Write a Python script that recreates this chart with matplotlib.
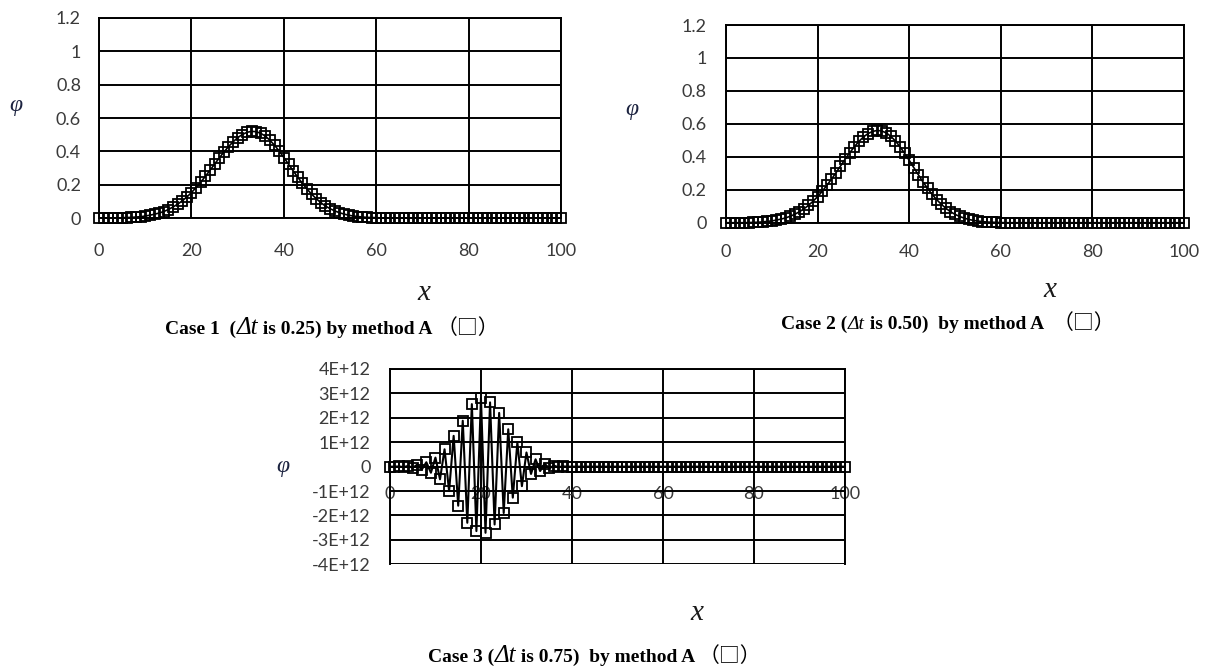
"""Three panels of phi(x) for the advection test, cases 1-3 of method A."""
import matplotlib

matplotlib.use("Agg")
import matplotlib.pyplot as plt
import numpy as np
from matplotlib.offsetbox import AnnotationBbox, HPacker, TextArea

# node positions along x (uniform grid, 0..100)
x_nodes = np.arange(101)

# values, one per node
case1_phi = [
    0, 0, 0, 0, 0, 0.002, 0.003, 0.004, 0.006, 0.008,
    0.012, 0.017, 0.023, 0.030, 0.039, 0.051, 0.066, 0.083, 0.103, 0.126,
    0.153, 0.183, 0.215, 0.250, 0.286, 0.323, 0.360, 0.395, 0.428, 0.457,
    0.482, 0.501, 0.514, 0.520, 0.518, 0.508, 0.491, 0.466, 0.436, 0.401,
    0.363, 0.323, 0.284, 0.245, 0.208, 0.174, 0.143, 0.116, 0.092, 0.072,
    0.056, 0.043, 0.032, 0.024, 0.017, 0.012, 0.009, 0.006, 0.004, 0.003,
    0.002, 0.001, 0, 0, 0, 0, 0, 0, 0, 0,
    0, 0, 0, 0, 0, 0, 0, 0, 0, 0,
    0, 0, 0, 0, 0, 0, 0, 0, 0, 0,
    0, 0, 0, 0, 0, 0, 0, 0, 0, 0,
    0,
]
case2_phi = [
    0, 0, 0, 0, 0, 0.001, 0.002, 0.003, 0.005, 0.008,
    0.011, 0.016, 0.022, 0.029, 0.039, 0.051, 0.066, 0.084, 0.105, 0.130,
    0.158, 0.190, 0.226, 0.263, 0.303, 0.344, 0.385, 0.424, 0.460, 0.493,
    0.520, 0.541, 0.554, 0.560, 0.557, 0.545, 0.524, 0.496, 0.461, 0.421,
    0.379, 0.335, 0.291, 0.248, 0.209, 0.172, 0.140, 0.112, 0.088, 0.067,
    0.051, 0.038, 0.028, 0.020, 0.014, 0.010, 0.007, 0.004, 0.003, 0.002,
    0.001, 0, 0, 0, 0, 0, 0, 0, 0, 0,
    0, 0, 0, 0, 0, 0, 0, 0, 0, 0,
    0, 0, 0, 0, 0, 0, 0, 0, 0, 0,
    0, 0, 0, 0, 0, 0, 0, 0, 0, 0,
    0,
]
# case 3 blows up, values in units of 1E+12
case3_phi_e12 = [
    0, 0, 0.01, -0.02, 0.03, -0.05, 0.08, -0.12, 0.18, -0.25,
    0.37, -0.52, 0.71, -1.00, 1.26, -1.60, 1.88, -2.30, 2.56, -2.64,
    2.80, -2.71, 2.63, -2.37, 2.20, -1.90, 1.53, -1.27, 0.99, -0.80,
    0.58, -0.30, 0.30, -0.18, 0.12, -0.07, 0.04, -0.02, 0.01, 0,
    0, 0, 0, 0, 0, 0, 0, 0, 0, 0,
    0, 0, 0, 0, 0, 0, 0, 0, 0, 0,
    0, 0, 0, 0, 0, 0, 0, 0, 0, 0,
    0, 0, 0, 0, 0, 0, 0, 0, 0, 0,
    0, 0, 0, 0, 0, 0, 0, 0, 0, 0,
    0, 0, 0, 0, 0, 0, 0, 0, 0, 0,
    0,
]

x_ticks = [0, 20, 40, 60, 80, 100]
x_tick_labels = ["0", "20", "40", "60", "80", "100"]
y_ticks_small = [0, 0.2, 0.4, 0.6, 0.8, 1.0, 1.2]
y_tick_labels_small = ["0", "0.2", "0.4", "0.6", "0.8", "1", "1.2"]
y_ticks_case3 = [-4e12, -3e12, -2e12, -1e12, 0, 1e12, 2e12, 3e12, 4e12]
y_tick_labels_case3 = ["-4E+12", "-3E+12", "-2E+12", "-1E+12", "0",
                       "1E+12", "2E+12", "3E+12", "4E+12"]

captions = [
    ("Case 1  (", "Δt", " is 0.25) by method A "),
    ("Case 2 (", "Δt", " is 0.50)  by method A  "),
    ("Case 3 (", "Δt", " is 0.75)  by method A "),
]
delta_sizes = [18, 14, 18]

plt.rcParams["font.family"] = ["Lato", "DejaVu Sans"]

GRID_LW = 1.4
TICK_COLOR = "#3a3a3a"
SERIF = ["Liberation Serif", "DejaVu Serif"]


def _style_axes(ax, yticks, ylabels, xpad, ypad):
    ax.set_xlim(0, 100)
    ax.set_ylim(yticks[0], yticks[-1])
    ax.set_xticks(x_ticks)
    ax.set_xticklabels(x_tick_labels)
    ax.set_yticks(yticks)
    ax.set_yticklabels(ylabels)
    ax.tick_params(axis="x", length=0, pad=xpad, labelsize=13, colors=TICK_COLOR)
    ax.tick_params(axis="y", length=0, pad=ypad, labelsize=13, colors=TICK_COLOR)
    ax.grid(True, color="black", linewidth=GRID_LW)
    ax.set_axisbelow(True)
    for sp in ax.spines.values():
        sp.set_linewidth(GRID_LW)
        sp.set_color("black")


def _plot_series(ax, y, lw=1.2):
    ax.plot(x_nodes, y, color="black", linewidth=lw, marker="s",
            markersize=6.6, markerfacecolor="none", markeredgecolor="black",
            markeredgewidth=1.3, clip_on=False, zorder=3)


def _caption(fig, parts, dsize, xy):
    pre, delta, post = parts
    bold = dict(family=SERIF, fontweight="bold", fontsize=14, color="black")
    boxes = [
        TextArea(pre, textprops=bold),
        TextArea(delta, textprops=dict(family=SERIF, style="italic",
                                       fontsize=dsize, color="black")),
        TextArea(post, textprops=bold),
        TextArea("（□）", textprops=dict(family=["Noto Sans CJK SC", "DejaVu Sans"],
                                         fontsize=15, color="black")),
    ]
    pack = HPacker(children=boxes, align="baseline", pad=0, sep=0)
    ab = AnnotationBbox(pack, xy, xycoords="figure fraction", frameon=False,
                        box_alignment=(0.5, 0.5))
    fig.add_artist(ab)


fig = plt.figure(figsize=(12.08, 6.69), dpi=100)

ax1 = fig.add_axes([0.0820, 0.6741, 0.3825, 0.2990])
ax2 = fig.add_axes([0.6010, 0.6671, 0.3791, 0.2955])
ax3 = fig.add_axes([0.3228, 0.1565, 0.3767, 0.2920])

_style_axes(ax1, y_ticks_small, y_tick_labels_small, xpad=18, ypad=13)
_style_axes(ax2, y_ticks_small, y_tick_labels_small, xpad=15, ypad=14)
_style_axes(ax3, y_ticks_case3, y_tick_labels_case3, xpad=14, ypad=14)
# case 3: x labels sit on the zero line
ax3.spines["bottom"].set_position(("data", 0))

_plot_series(ax1, case1_phi)
_plot_series(ax2, case2_phi)
_plot_series(ax3, np.array(case3_phi_e12) * 1e12, lw=1.5)

phi_kw = dict(family=SERIF, style="italic", fontsize=17, color="#1c2340",
              ha="center", va="center")
fig.text(0.0132, 0.843, "φ", **phi_kw)
fig.text(0.5230, 0.8356, "φ", **phi_kw)
fig.text(0.2343, 0.302, "φ", **phi_kw)

x_kw = dict(family=SERIF, style="italic", fontsize=21, color="#1a1a1a",
            ha="center", va="center")
fig.text(0.351, 0.562, "x", **x_kw)
fig.text(0.869, 0.5665, "x", **x_kw)
fig.text(0.577, 0.0837, "x", **x_kw)

_caption(fig, captions[0], delta_sizes[0], (0.275, 0.5097))
_caption(fig, captions[1], delta_sizes[1], (0.785, 0.517))
_caption(fig, captions[2], delta_sizes[2], (0.4925, 0.0194))

fig.savefig("out.png", dpi=100)
